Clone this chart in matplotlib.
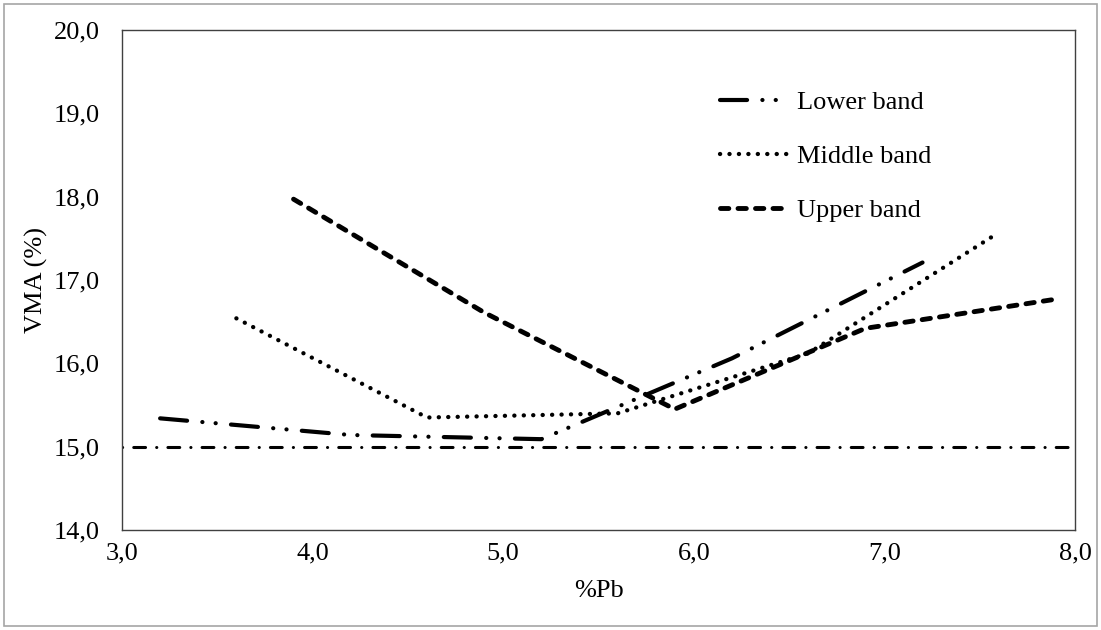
import matplotlib
matplotlib.use("Agg")
import matplotlib.pyplot as plt
from matplotlib.patches import Rectangle
from matplotlib.ticker import FuncFormatter

# data
lower_pb = [3.2, 4.2, 5.2, 6.2, 7.2]
lower_vma = [15.34, 15.14, 15.09, 16.06, 17.21]

middle_pb = [3.6, 4.6, 5.6, 6.6, 7.6]
middle_vma = [16.54, 15.35, 15.40, 16.12, 17.57]

upper_pb = [3.9, 4.9, 5.9, 6.9, 7.9]
upper_vma = [17.97, 16.61, 15.45, 16.42, 16.77]

min_vma = 15.0
x_ticks = [3, 4, 5, 6, 7, 8]
y_ticks = [14, 15, 16, 17, 18, 19, 20]

plt.rcParams["font.family"] = ["Liberation Serif", "DejaVu Serif"]
plt.rcParams["lines.scale_dashes"] = False

fs = 19

fig = plt.figure(figsize=(11.01, 6.30), dpi=100)
ax = fig.add_axes([0.1108, 0.1587, 0.8656, 0.7937])

# outer chart border
fig.patches.append(Rectangle((0.004, 0.006), 0.992, 0.988, transform=fig.transFigure,
                             fill=False, edgecolor="#a6a6a6", linewidth=1.2))

ax.plot([x_ticks[0], x_ticks[-1]], [min_vma, min_vma], color="black", linewidth=2.2,
        dashes=(0.1, 8, 8.5, 8), dash_capstyle="round")

ax.plot(lower_pb, lower_vma, color="black", linewidth=3.0, label="Lower band",
        dashes=(19.5, 11, 0.1, 9.5, 0.1, 11), dash_capstyle="round")
ax.plot(middle_pb, middle_vma, color="black", linewidth=3.1, label="Middle band",
        dashes=(0.1, 6.7), dash_capstyle="round")
ax.plot(upper_pb, upper_vma, color="black", linewidth=3.5, label="Upper band",
        dashes=(6.0, 6.6), dash_capstyle="round")

ax.set_xlim(3, 8)
ax.set_ylim(14, 20)
ax.set_xticks(x_ticks)
ax.set_yticks(y_ticks)
fmt = FuncFormatter(lambda v, pos: f"{v:.1f}".replace(".", ","))
ax.xaxis.set_major_formatter(fmt)
ax.yaxis.set_major_formatter(fmt)
ax.tick_params(axis="both", length=0, labelsize=fs)
ax.tick_params(axis="y", pad=16)
ax.tick_params(axis="x", pad=9)

for s in ax.spines.values():
    s.set_color("#404040")
    s.set_linewidth(1)

ax.set_xlabel("%Pb", fontsize=fs, labelpad=11)
ax.set_ylabel("VMA (%)", fontsize=fs, labelpad=4)

ax.legend(loc="upper left", bbox_to_anchor=(0.627, 0.878), frameon=False, fontsize=fs,
          handlelength=2.65, handletextpad=0.27, labelspacing=1.15,
          borderpad=0, borderaxespad=0)

fig.savefig("out.png", dpi=100)
